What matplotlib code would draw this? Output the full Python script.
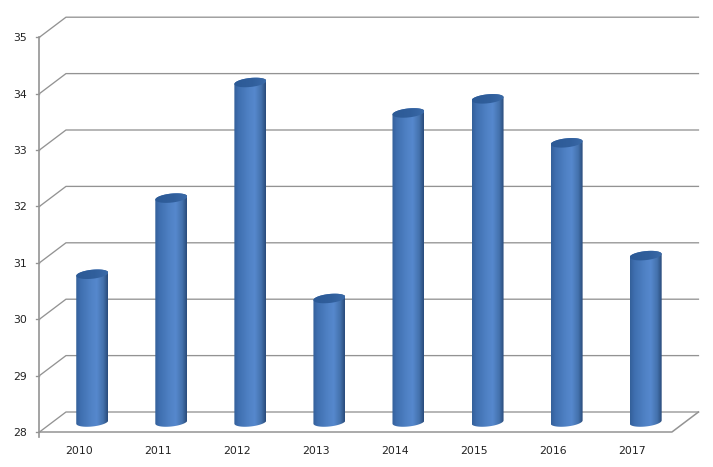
import matplotlib
matplotlib.use("Agg")
import matplotlib.pyplot as plt
from matplotlib.colors import LinearSegmentedColormap
from matplotlib.patches import PathPatch
from matplotlib.path import Path
import numpy as np

years = ["2010", "2011", "2012", "2013", "2014", "2015", "2016", "2017"]
values = [30.62, 31.97, 34.02, 30.19, 33.48, 33.73, 32.95, 30.95]
y_ticks = [28, 29, 30, 31, 32, 33, 34, 35]

# pixels per data unit, used for the fake 3D depth
PX_X = 79.06
PX_Y = 56.4
DEPTH_X = 26.5 / PX_X
DEPTH_Y = 20 / PX_Y
RX = 16 / PX_X
RY = 4.5 / PX_Y
TILT = 1.6 / PX_Y
GRID = "#939393"

body_cmap = LinearSegmentedColormap.from_list("body", [
    (0.0, "#34609a"), (0.14, "#3f6fb0"), (0.45, "#4f81c4"),
    (0.65, "#5688cd"), (0.86, "#4472ad"), (1.0, "#2a4c7c")])
top_cmap = LinearSegmentedColormap.from_list("top", [
    (0.0, "#2c5a96"), (0.6, "#315f9c"), (1.0, "#3a6aa8")])


def arc(cx, cy, start, stop):
    t = np.linspace(start, stop, 50)
    return np.column_stack([cx + RX * np.cos(t), cy + RY * np.sin(t) + TILT * np.cos(t)])


def gradient(ax, path, cmap, cx, y0, y1):
    patch = PathPatch(path, facecolor="none", edgecolor="none", transform=ax.transData)
    ax.add_patch(patch)
    im = ax.imshow(np.linspace(0, 1, 64).reshape(1, -1), cmap=cmap, aspect="auto",
                   extent=(cx - RX, cx + RX, y0, y1), zorder=3, interpolation="bilinear")
    im.set_clip_path(patch)


fig = plt.figure(figsize=(7.13, 4.67), dpi=100)
ax = fig.add_axes([0, 0, 1, 1])

# walls and floor
for tick in y_ticks:
    ax.plot([-0.5, -0.5 + DEPTH_X, 7.5 + DEPTH_X], [tick, tick + DEPTH_Y, tick + DEPTH_Y],
            color=GRID, lw=0.95, zorder=1)
    ax.plot([-0.5 - 3 / PX_X, -0.5], [tick, tick], color=GRID, lw=0.95, zorder=1)
    ax.text(-0.5 - 12.5 / PX_X, tick - 1 / PX_Y, str(tick), ha="right", va="center",
            fontsize=7.8, color="#222222")
ax.plot([-0.5, -0.5], [28 - 5 / PX_Y, 35], color=GRID, lw=1.2, zorder=1)
ax.plot([-0.5, 7.5, 7.5 + DEPTH_X], [28, 28, 28 + DEPTH_Y], color=GRID, lw=1.1, zorder=1)

# cylinders
for i, (year, value) in enumerate(zip(years, values)):
    cx = i + DEPTH_X / 2
    base = 28 + DEPTH_Y / 2
    top = value + DEPTH_Y / 2
    outline = np.vstack([arc(cx, base, np.pi, 2 * np.pi), arc(cx, top, 0, np.pi)])
    gradient(ax, Path(np.vstack([outline, outline[0]]), closed=True), body_cmap, cx,
             base - 0.2, top + 0.2)
    cap = arc(cx, top, 0, 2 * np.pi)
    gradient(ax, Path(cap, closed=True), top_cmap, cx, top - 0.2, top + 0.2)
    ax.text(i, 28 - 19.5 / PX_Y, year, ha="center", va="center", fontsize=7.8, color="#222222")

ax.set_xlim(-79 / PX_X, (713 - 79) / PX_X)
ax.set_ylim(28 - 35 / PX_Y, 28 + 432 / PX_Y)
ax.axis("off")

fig.savefig("out.png", dpi=100)
